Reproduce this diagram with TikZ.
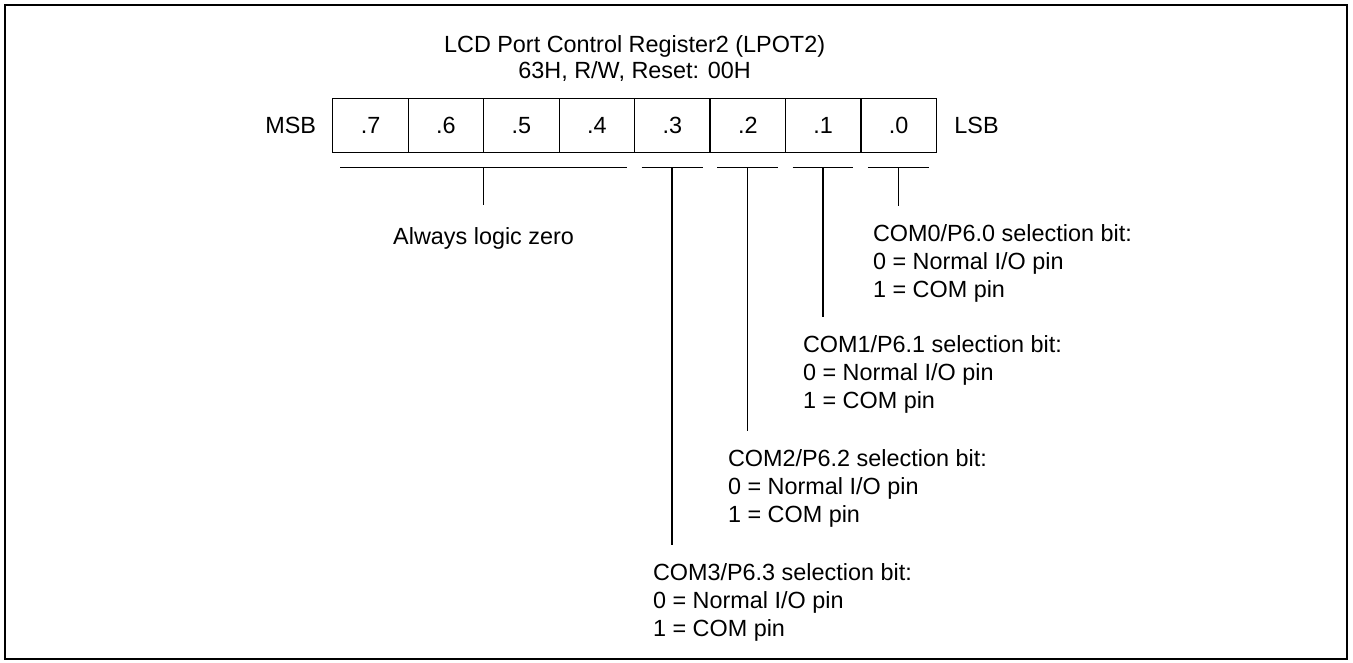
\documentclass[tikz,border=0pt]{standalone}
\usepackage{fontspec}
\setmainfont{Liberation Sans}
\usepackage{tikz}
\begin{document}
\begin{tikzpicture}[x=0.5pt,y=-0.5pt,font=\fontsize{11.7}{14}\selectfont,line width=0.65pt,
  bitcell/.style={draw,minimum width=37.725pt,minimum height=27pt,inner sep=0pt,outer sep=0pt},
  plain/.style={inner sep=0pt,outer sep=0pt},
  desc/.style={plain,anchor=north west,align=left}]
\useasboundingbox (0,0) rectangle (1353,663);
% outer frame
\draw[line width=1.1pt] (5,5) rectangle (1347,659);
% title
\node[plain,align=center,font=\fontsize{11.7}{13}\selectfont] (title) at (634.6,59)
  {LCD Port Control Register2 (LPOT2)\\63H, R/W, Reset: 00H};
% bit cells
\foreach \b in {7,...,0}{
  \pgfmathsetmacro{\x}{332.8+75.45*(7-\b)+37.725}
  \node[bitcell] (b\b) at (\x,125.7) {.\b};
}
\node[plain,anchor=east] (msb) at ([xshift=-8.4pt]b7.west) {MSB};
\node[plain,anchor=west] (lsb) at ([xshift=9pt]b0.east) {LSB};
% brackets under the cells
\draw ([xshift=3.75pt,yshift=-7.3pt]b7.south west) -- coordinate (br4)
  ([xshift=-3.75pt,yshift=-7.3pt]b4.south east);
\foreach \b in {3,...,0}
  \draw ([xshift=3.5pt,yshift=-7.3pt]b\b.south west) -- coordinate (br\b)
    ([xshift=-3.75pt,yshift=-7.3pt]b\b.south east);
% bits 7 to 4
\node[plain,anchor=north] (zero) at (483.6,228) {Always logic zero};
\draw[shorten >=11.5pt] (br4) -- (br4 |- zero.north);
% bits 3 to 0
\foreach \b/\lx/\ly in {0/873/225,1/803/336,2/728/450,3/653/564}{
  \node[desc] (d\b) at (\lx,\ly) {COM\b/P6.\b\ selection bit:\\0 = Normal I/O pin\\1 = COM pin};
  \draw[shorten >=9.5pt] (br\b) -- (br\b |- d\b.north);
}
\end{tikzpicture}
\end{document}
